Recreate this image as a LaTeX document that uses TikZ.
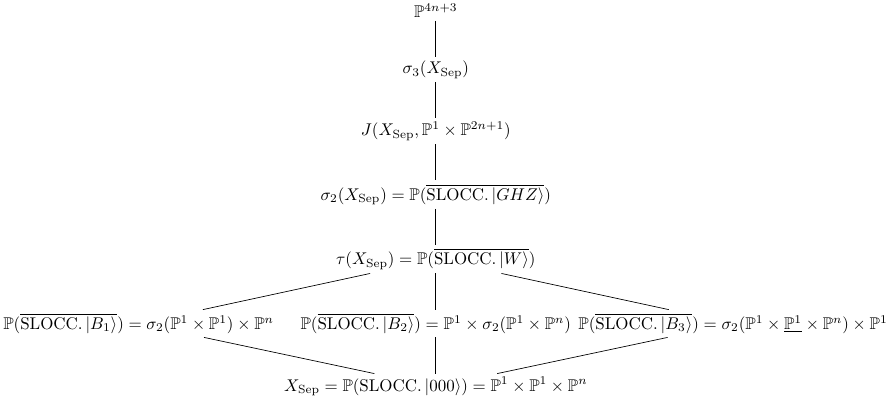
\documentclass[tikz,border=0pt]{standalone}
\usepackage{amsmath, amssymb}
\usetikzlibrary{positioning}

\begin{document}
\begin{tikzpicture}[
	node distance=0.75cm and 0.4cm,
	orbit/.style={inner sep=2pt, font=\normalsize},
	link/.style={draw, line width=0.4pt},
]
	% Chain of secant varieties
	\node[orbit] (top) {$\mathbb{P}^{4n+3}$};
	\node[orbit, below=of top] (sig3) {$\sigma_3(X_{\mathrm{Sep}})$};
	\node[orbit, below=of sig3] (join) {$J(X_{\mathrm{Sep}}, \mathbb{P}^1\times\mathbb{P}^{2n+1})$};
	\node[orbit, below=of join] (ghz) {$\sigma_2(X_{\mathrm{Sep}}) = \mathbb{P}(\overline{\mathrm{SLOCC.}\,|GHZ\rangle})$};
	\node[orbit, below=of ghz] (w) {$\tau(X_{\mathrm{Sep}}) = \mathbb{P}(\overline{\mathrm{SLOCC.}\,|W\rangle})$};

	% Middle row
	\node[orbit, below=of w] (b2) {$\mathbb{P}(\overline{\mathrm{SLOCC.}\,|B_2\rangle}) = \mathbb{P}^1\times\sigma_2(\mathbb{P}^1\times\mathbb{P}^n)$};
	\node[orbit, left=of b2] (b1) {$\mathbb{P}(\overline{\mathrm{SLOCC.}\,|B_1\rangle}) = \sigma_2(\mathbb{P}^1\times\mathbb{P}^1)\times\mathbb{P}^n$};
	\node[orbit, right=0pt of b2] (b3) {$\mathbb{P}(\overline{\mathrm{SLOCC.}\,|B_3\rangle}) = \sigma_2(\mathbb{P}^1\times\underline{\mathbb{P}^1}\times\mathbb{P}^n)\times\mathbb{P}^1$};

	% Separable states
	\node[orbit, below=of b2] (sep) {$X_{\mathrm{Sep}} = \mathbb{P}(\mathrm{SLOCC.}\,|000\rangle) = \mathbb{P}^1\times\mathbb{P}^1\times\mathbb{P}^n$};

	% Inclusions
	\draw[link] (top) -- (sig3);
	\draw[link] (sig3) -- (join);
	\draw[link] (join) -- (ghz);
	\draw[link] (ghz) -- (w);
	\foreach \b in {b1, b2, b3} {
		\draw[link] (w) -- (\b);
		\draw[link] (\b) -- (sep);
	}
\end{tikzpicture}
\end{document}
